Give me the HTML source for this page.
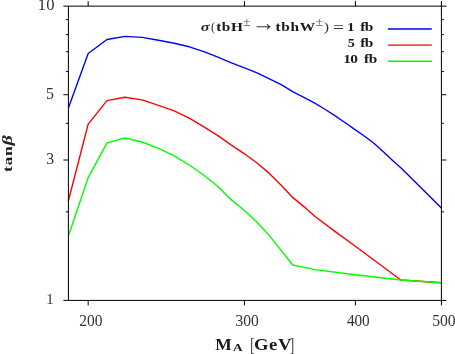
<!DOCTYPE html><html><head><meta charset="utf-8"><title>plot</title><style>html,body{margin:0;padding:0;background:#fff}svg{display:block;will-change:transform}text{font-family:"Liberation Serif",serif}</style></head><body>
<svg width="455" height="354" viewBox="0 0 455 354">
<rect width="455" height="354" fill="#fff"/>
<polyline fill="none" stroke="#0000ff" stroke-width="1.4" stroke-linejoin="round" points="68.4,108.0 88.2,53.5 107.0,39.5 124.9,36.4 142.1,37.4 158.5,40.3 174.2,43.2 189.3,46.8 203.9,51.6 217.9,57.1 231.4,62.8 244.5,67.8 257.1,72.8 269.4,78.9 281.2,84.7 292.7,91.7 303.9,97.4 314.8,103.2 325.3,109.5 335.6,116.1 345.6,123.0 355.4,129.8 364.9,136.5 374.2,143.5 383.3,151.7 392.1,159.9 400.8,167.7 417.5,184.3 441.4,208.1"/>
<polyline fill="none" stroke="#ff0000" stroke-width="1.4" stroke-linejoin="round" points="68.4,200.7 88.2,124.1 107.0,100.6 124.9,97.3 142.1,99.9 158.5,105.3 174.2,110.8 189.3,118.1 203.9,126.8 217.9,135.6 231.4,145.1 244.5,153.8 257.1,163.0 269.4,173.4 281.2,185.2 292.7,197.4 303.9,206.6 314.8,216.3 335.6,231.9 355.4,246.3 400.8,280.0 441.4,282.8"/>
<polyline fill="none" stroke="#00ff00" stroke-width="1.4" stroke-linejoin="round" points="68.4,236.0 88.2,177.6 107.0,142.9 124.9,138.0 142.1,142.0 158.5,148.4 174.2,155.8 189.3,165.0 203.9,175.3 217.9,186.5 231.4,199.9 244.5,210.5 257.1,222.2 269.4,235.6 281.2,250.4 292.7,265.0 314.8,269.6 355.4,274.8 400.8,280.0 441.4,282.8"/>
<line x1="387.9" x2="431.8" y1="29.00" y2="29.00" stroke="#0000ff" stroke-width="1.4"/>
<line x1="387.9" x2="431.8" y1="45.15" y2="45.15" stroke="#ff0000" stroke-width="1.4"/>
<line x1="387.9" x2="431.8" y1="61.30" y2="61.30" stroke="#00ff00" stroke-width="1.4"/>
<path d="M68.40 6.15H441.40V300.40H68.40ZM68.40 300.40h-5.00M441.40 300.40h5.00M68.40 211.82h-2.50M441.40 211.82h2.50M68.40 160.01h-5.00M441.40 160.01h5.00M68.40 123.24h-2.50M441.40 123.24h2.50M68.40 94.73h-5.00M441.40 94.73h5.00M68.40 71.43h-2.50M441.40 71.43h2.50M68.40 51.73h-2.50M441.40 51.73h2.50M68.40 34.67h-2.50M441.40 34.67h2.50M68.40 19.61h-2.50M441.40 19.61h2.50M68.40 6.15h-5.00M441.40 6.15h5.00M88.17 300.40v5M88.17 6.15v-5M244.48 300.40v5M244.48 6.15v-5M355.38 300.40v5M355.38 6.15v-5M441.40 300.40v5M441.40 6.15v-5" fill="none" stroke="#000" stroke-width="1"/><text transform="matrix(0.8295 0 0 0.7854 37.84 9.75)" font-size="20" font-weight="normal" font-style="normal" fill="#333">10</text>
<text transform="matrix(0.7944 0 0 0.8051 46.08 99.44)" font-size="20" font-weight="normal" font-style="normal" fill="#333">5</text>
<text transform="matrix(0.7868 0 0 0.8037 46.25 164.44)" font-size="20" font-weight="normal" font-style="normal" fill="#333">3</text>
<text transform="matrix(0.7385 0 0 0.7574 46.20 304.40)" font-size="20" font-weight="normal" font-style="normal" fill="#333">1</text>
<text transform="matrix(0.7758 0 0 0.7854 79.29 325.65)" font-size="20" font-weight="normal" font-style="normal" fill="#333">200</text>
<text transform="matrix(0.7779 0 0 0.7854 235.53 325.65)" font-size="20" font-weight="normal" font-style="normal" fill="#333">300</text>
<text transform="matrix(0.7626 0 0 0.7854 346.88 325.65)" font-size="20" font-weight="normal" font-style="normal" fill="#333">400</text>
<text transform="matrix(0.7836 0 0 0.7854 432.19 325.65)" font-size="20" font-weight="normal" font-style="normal" fill="#333">500</text>
<text transform="translate(200.63 30.60) scale(1.2736 1)" font-size="12.80" letter-spacing="0.000" font-weight="bold" font-style="italic" fill="#1a1a1a">σ</text>
<text transform="matrix(0.6230 0 0 0.6452 211.05 30.75)" font-size="20" font-weight="normal" font-style="normal" fill="#333">(</text>
<text transform="translate(216.15 30.60) scale(1.2200 1)" font-size="12.60" letter-spacing="0.442" font-weight="bold" font-style="normal" fill="#1a1a1a">tbH</text>
<text transform="matrix(0.7092 0 0 0.6018 243.11 25.50)" font-size="20" font-weight="normal" font-style="normal" fill="#555">±</text>
<text transform="matrix(1.1659 0 0 1.2160 252.04 31.49)" font-size="20" font-weight="normal" font-style="normal" fill="#333">→</text>
<text transform="translate(275.55 30.60) scale(1.2200 1)" font-size="12.60" letter-spacing="0.519" font-weight="bold" font-style="normal" fill="#1a1a1a">tbhW</text>
<text transform="matrix(0.6877 0 0 0.6018 315.43 25.50)" font-size="20" font-weight="normal" font-style="normal" fill="#555">±</text>
<text transform="matrix(0.7982 0 0 0.6452 323.69 30.75)" font-size="20" font-weight="normal" font-style="normal" fill="#333">)</text>
<text transform="matrix(0.9778 0 0 0.8200 332.93 33.40)" font-size="20" font-weight="normal" font-style="normal" fill="#333">=</text>
<text transform="translate(347.08 30.60) scale(1.2072 1)" font-size="12.60" letter-spacing="0.000" font-weight="bold" font-style="normal" fill="#1a1a1a">1</text>
<text transform="translate(360.19 30.60) scale(1.2200 1)" font-size="12.60" letter-spacing="-0.355" font-weight="bold" font-style="normal" fill="#1a1a1a">fb</text>
<text transform="translate(347.63 46.75) scale(1.1248 1)" font-size="12.60" letter-spacing="0.000" font-weight="bold" font-style="normal" fill="#1a1a1a">5</text>
<text transform="translate(360.19 46.75) scale(1.2200 1)" font-size="12.60" letter-spacing="-0.355" font-weight="bold" font-style="normal" fill="#1a1a1a">fb</text>
<text transform="translate(343.37 62.90) scale(1.2200 1)" font-size="12.60" letter-spacing="-0.701" font-weight="bold" font-style="normal" fill="#1a1a1a">10</text>
<text transform="translate(363.89 62.90) scale(1.2200 1)" font-size="12.60" letter-spacing="-0.273" font-weight="bold" font-style="normal" fill="#1a1a1a">fb</text>
<text transform="translate(215.30 349.60) scale(1.0928 1)" font-size="16.00" letter-spacing="0.000" font-weight="bold" font-style="normal" fill="#1a1a1a">M</text>
<text transform="translate(233.07 351.40) scale(1.1903 1)" font-size="11.20" letter-spacing="0.000" font-weight="bold" font-style="normal" fill="#1a1a1a">A</text>
<text transform="matrix(0.6288 0 0 0.9243 250.27 350.53)" font-size="20" font-weight="normal" font-style="normal" fill="#333">[</text>
<text transform="translate(253.89 349.60) scale(1.1700 1)" font-size="16.00" letter-spacing="0.485" font-weight="bold" font-style="normal" fill="#1a1a1a">GeV</text>
<text transform="matrix(0.6288 0 0 0.9243 289.95 350.53)" font-size="20" font-weight="normal" font-style="normal" fill="#333">]</text>
<g transform="translate(11.9,171.8) rotate(-90)">
<text transform="translate(-0.08 0.00) scale(1.3000 1)" font-size="13.50" letter-spacing="0.449" font-weight="bold" font-style="normal" fill="#1a1a1a">tan</text>
<text transform="matrix(1.0054 0 0 0.6979 26.32 0.03)" font-size="20" font-weight="bold" font-style="italic" fill="#222">β</text>
</g>
</svg></body></html>
